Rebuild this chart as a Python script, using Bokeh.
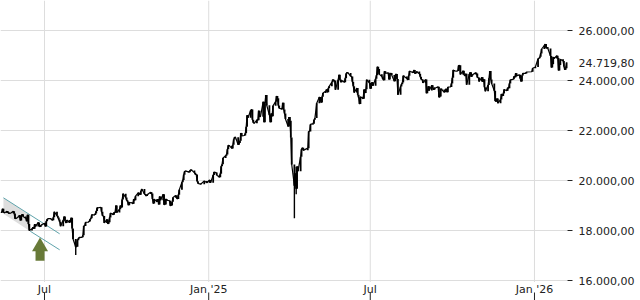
import numpy as np
import pandas as pd
from bokeh.plotting import figure
from bokeh.models import Range1d, ColumnDataSource
from bokeh.core.properties import value
from bokeh.embed import file_html
from bokeh.resources import INLINE

# ---- daily closes (index points) ----
may24 = [18742, 18716, 18869, 18738, 18704, 18768, 18726, 18680, 18691, 18693, 18774, 18677, 18473, 18496, 18498]
jun24 = [18608, 18405, 18576, 18653, 18557, 18494, 18370, 18630, 18265, 18002, 18068, 18131, 18067, 18254, 18163, 18325, 18176, 18155, 18211, 18235]
jul24 = [18290, 18164, 18374, 18450, 18475, 18472, 18430, 18407, 18535, 18748, 18590, 18518, 18437, 18354, 18171, 18407, 18557, 18387, 18298, 18418, 18320, 18410, 18508]
aug24 = [18083, 17661, 17339, 17354, 17615, 17680, 17722, 17726, 17812, 18185, 18183, 18322, 18339, 18357, 18448, 18493, 18633, 18617, 18681, 18782, 18912, 18906]
sep24 = [18930, 18747, 18592, 18576, 18302, 18443, 18266, 18330, 18518, 18699, 18633, 18726, 18711, 19002, 18720, 18847, 18996, 18918, 19238, 19474, 19325]
oct24 = [19213, 19164, 19015, 19121, 19104, 19066, 19254, 19210, 19373, 19508, 19486, 19432, 19583, 19657, 19461, 19421, 19377, 19443, 19464, 19531, 19479, 19257, 19078]
nov24 = [19255, 19148, 19256, 19039, 19363, 19215, 19448, 19033, 19039, 19264, 19211, 19189, 18987, 19005, 19147, 19323, 19405, 19296, 19262, 19426, 19626]
dec24 = [19934, 20017, 20232, 20359, 20385, 20346, 20330, 20399, 20426, 20405, 20314, 20246, 20242, 19970, 19885, 19849, 19984, 19909]
jan25 = [20025, 19906, 20216, 20340, 20330, 20318, 20215, 20133, 20271, 20575, 20655, 20903, 20990, 21042, 21254, 21411, 21395, 21282, 21431, 21637, 21727, 21732]
feb25 = [21428, 21505, 21586, 21902, 21787, 21800, 21893, 22148, 22612, 22513, 22798, 22844, 22434, 22314, 22287, 22426, 22410, 22795, 22551, 22551]
mar25 = [23147, 22327, 23081, 23419, 23009, 22621, 22329, 22676, 22567, 22987, 23154, 23381, 23288, 22999, 22892, 22853, 23109, 22839, 22679, 22461, 22163]
apr25 = [22539, 22390, 21717, 20642, 19790, 20280, 19671, 20562, 20374, 20955, 21254, 21311, 21206, 21294, 21962, 21961, 22242, 22272, 22426, 22497]
may25 = [23087, 23345, 23249, 23116, 23352, 23499, 23567, 23638, 23527, 23695, 23767, 23934, 24036, 23999, 23999, 23630, 24028, 24227, 24038, 23933, 23997]
jun25 = [23930, 24092, 24276, 24324, 24304, 24174, 24162, 23949, 23771, 23516, 23699, 23435, 23317, 23057, 23350, 23269, 23641, 23498, 23650, 24033, 23910]
jul25 = [23673, 23790, 23934, 23787, 24074, 24207, 24550, 24457, 24255, 24161, 24060, 24009, 24371, 24290, 24308, 24042, 24240, 24296, 24218, 23970, 24218, 24262, 24065]
aug25 = [23426, 23757, 23847, 23925, 24193, 24163, 24082, 24025, 24186, 24377, 24359, 24315, 24423, 24277, 24293, 24363, 24273, 24152, 24046, 24039, 23902]
sep25 = [24037, 23487, 23595, 23770, 23597, 23807, 23718, 23632, 23704, 23698, 23749, 23329, 23359, 23675, 23639, 23527, 23611, 23666, 23535, 23739, 23745, 23881]
oct25 = [24114, 24423, 24379, 24378, 24385, 24597, 24611, 24241, 24388, 24237, 24181, 24272, 23831, 24259, 24330, 24152, 24207, 24240, 24309, 24278, 24124, 24119, 23958]
nov25 = [24132, 23949, 24050, 23735, 23570, 23820, 24088, 24381, 24041, 23877, 23590, 23180, 23162, 23279, 23092, 23239, 23465, 23380, 23480, 23640]
dec25 = [23589, 23710, 23694, 23882, 24028, 24046, 24162, 24130, 24294, 24186, 24229, 24076, 23960, 24200, 24288, 24283, 24340, 24351, 24490]
jan26 = [24540, 24870, 24890, 24950, 25080, 25260, 25400, 25460, 25290, 25330, 25280, 24980, 24520, 24650, 24940, 24880, 24990, 24900, 24400, 24620, 24850]
feb26 = [24780, 24560, 24430, 24490, 24719.8]

month_keys = ["2024-05", "2024-06", "2024-07", "2024-08", "2024-09", "2024-10", "2024-11", "2024-12",
              "2025-01", "2025-02", "2025-03", "2025-04", "2025-05", "2025-06", "2025-07", "2025-08",
              "2025-09", "2025-10", "2025-11", "2025-12", "2026-01", "2026-02"]
month_vals = [may24, jun24, jul24, aug24, sep24, oct24, nov24, dec24, jan25, feb25, mar25, apr25,
              may25, jun25, jul25, aug25, sep25, oct25, nov25, dec25, jan26, feb26]
first_day = "2024-05-13"
holidays = ["2024-12-24", "2024-12-25", "2024-12-26", "2024-12-31", "2025-01-01", "2025-04-18",
            "2025-04-21", "2025-05-01", "2025-12-24", "2025-12-25", "2025-12-26", "2025-12-31", "2026-01-01"]

# intraday extremes on the most volatile days
wick_dates = ["2024-08-05", "2025-04-07", "2025-04-09"]
wick_lows = [17024, 18490, 19450]
wick_highs = [17650, 20300, 20550]

# trend channel (annotation) and signal arrow
chan_up_dates = ["2024-05-16", "2024-07-18"]
chan_up_vals = [19308, 17868]
chan_lo_dates = ["2024-06-15", "2024-07-18"]
chan_lo_vals = [17972, 17228]
shade_dates = ["2024-05-16", "2024-06-15", "2024-06-15", "2024-05-16"]
shade_vals = [19308, 18612, 17972, 18668]
signal_date = "2024-06-26"
signal_head_val = 17350
signal_stem_val = 17010

last_value = 24719.8
last_label = "24.719,80"

y_ticks = [16000, 18000, 20000, 22000, 24000, 26000]
y_tick_labels = ["16.000,00", "18.000,00", "20.000,00", "22.000,00", "24.000,00", "26.000,00"]
x_tick_dates = ["2024-07-01", "2025-01-01", "2025-07-01", "2026-01-01"]
x_tick_labels = ["Jul", "Jan '25", "Jul", "Jan '26"]

# ---- assemble ----
hol = pd.to_datetime(holidays)
dates, closes = [], []
for key, vals in zip(month_keys, month_vals):
    start = pd.Timestamp(key + "-01")
    start = max(start, pd.Timestamp(first_day))
    end = pd.Timestamp(key + "-01") + pd.offsets.MonthEnd(0)
    bd = pd.bdate_range(start, end)
    bd = bd[~bd.isin(hol)]
    if len(bd) >= len(vals):
        sel = bd[:len(vals)]
    else:
        idx = np.round(np.linspace(0, len(bd) - 1, len(vals))).astype(int)
        sel = bd[idx]
    dates.extend(list(sel))
    closes.extend(vals)

dates = pd.to_datetime(dates)
closes = np.array(closes, dtype=float)
opens = np.concatenate([[closes[0]], closes[:-1]])

src = ColumnDataSource(dict(d=dates, o=opens, c=closes))

# layout: the price pane is 567 x 282 px; right 73 px hold the price scale,
# the bottom 18 px the time scale (the whole canvas is one frame)
PX_PER_DAY = 0.8925
PTS_PER_PX = 40.0
x_start = pd.Timestamp("2024-05-12 17:00")
pane_end = x_start + pd.Timedelta(days=567 / PX_PER_DAY)
x_end = x_start + pd.Timedelta(days=640 / PX_PER_DAY)
y_top = 27200.0
y_bottom = y_top - 300 * PTS_PER_PX
pane_bottom = y_top - 281.5 * PTS_PER_PX
xlab_y = y_top - 288.5 * PTS_PER_PX
xtick_top = y_top - 292 * PTS_PER_PX

p = figure(width=640, height=300, x_axis_type="datetime", output_backend="svg",
           toolbar_location=None, x_axis_location=None, y_axis_location=None,
           x_range=Range1d(x_start, x_end), y_range=Range1d(y_bottom, y_top),
           min_border=0)
p.outline_line_color = None
p.background_fill_color = "white"
p.xgrid.grid_line_color = None
p.ygrid.grid_line_color = None

# grid
n = len(y_ticks)
m = len(x_tick_dates)
xt = pd.to_datetime(x_tick_dates)
p.segment(x0=[x_start] * n, y0=y_ticks, x1=[pane_end] * n, y1=y_ticks, line_color="#dddddd", line_width=1)
p.segment(x0=xt, y0=[pane_bottom] * m, x1=xt, y1=[y_top] * m, line_color="#dddddd", line_width=1)

# channel shading and lines
p.patch(pd.to_datetime(shade_dates), shade_vals, fill_color="#d3d3d3", fill_alpha=0.75, line_color=None)
p.line(pd.to_datetime(chan_up_dates), chan_up_vals, line_color="#5fa3ab", line_width=1)
p.line(pd.to_datetime(chan_lo_dates), chan_lo_vals, line_color="#5fa3ab", line_width=1)

# price bars
p.line("d", "c", source=src, line_color="black", line_width=1.2)
p.segment(x0="d", y0="o", x1="d", y1="c", source=src, line_color="black", line_width=1.8)
p.segment(x0=pd.to_datetime(wick_dates), y0=wick_lows, x1=pd.to_datetime(wick_dates), y1=wick_highs,
          line_color="black", line_width=1.4)

# signal arrow
sd = pd.to_datetime([signal_date])
p.rect(x=sd, y=[signal_stem_val], width=9, height=11, width_units="screen", height_units="screen",
       fill_color="#687a38", line_color=None)
p.scatter(x=sd, y=[signal_head_val], marker="triangle", size=16, fill_color="#687a38", line_color=None)

# price scale on the right
p.ray(x=[pane_end] * n, y=y_ticks, length=5, length_units="screen", angle=0,
      line_color="#222222", line_width=1)
p.text(x=[pane_end] * (n + 1), y=y_ticks + [last_value], text=y_tick_labels + [last_label],
       x_offset=11, text_font=value("DejaVu Sans"), text_font_size="11px", text_color="#222222",
       text_baseline="middle", text_align="left")

# time scale at the bottom
p.segment(x0=xt, y0=[y_bottom] * m, x1=xt, y1=[xtick_top] * m, line_color="#222222", line_width=1)
p.text(x=xt, y=[xlab_y] * m, text=x_tick_labels, text_font=value("DejaVu Sans"), text_font_size="11px",
       text_color="#222222", text_baseline="middle", text_align="center")

open("out.html", "w").write(file_html(p, INLINE))
